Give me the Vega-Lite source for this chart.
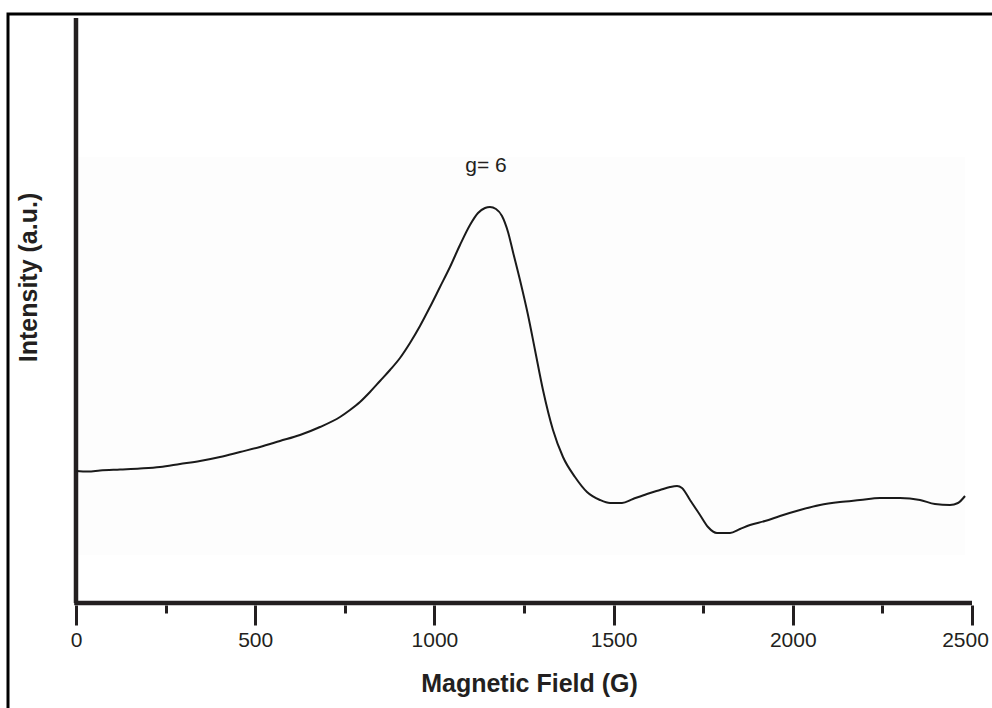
{
  "$schema": "https://vega.github.io/schema/vega-lite/v6.json",
  "width": 984,
  "height": 694,
  "autosize": {"type": "none"},
  "padding": {"left": 8, "top": 14, "right": 0, "bottom": 0},
  "background": "#ffffff",
  "config": {
    "view": {"stroke": "#000000", "strokeWidth": 3, "strokeDash": [984, 1678, 694]},
    "font": "Liberation Sans"
  },
  "datasets": {
    "curve": [
      {"field": 0, "intensity": 132},
      {"field": 33.5, "intensity": 131.5},
      {"field": 67, "intensity": 132.5},
      {"field": 122.8, "intensity": 133.5},
      {"field": 178.6, "intensity": 134.5},
      {"field": 234.4, "intensity": 136},
      {"field": 290.2, "intensity": 139},
      {"field": 346, "intensity": 142},
      {"field": 401.8, "intensity": 146},
      {"field": 457.6, "intensity": 151},
      {"field": 513.4, "intensity": 156},
      {"field": 569.2, "intensity": 162},
      {"field": 625, "intensity": 168},
      {"field": 680.8, "intensity": 176},
      {"field": 736.6, "intensity": 186},
      {"field": 764.5, "intensity": 193},
      {"field": 792.4, "intensity": 201},
      {"field": 820.3, "intensity": 211},
      {"field": 848.2, "intensity": 222},
      {"field": 876.1, "intensity": 233},
      {"field": 904, "intensity": 245},
      {"field": 931.9, "intensity": 260},
      {"field": 959.8, "intensity": 277},
      {"field": 987.7, "intensity": 296},
      {"field": 1015.6, "intensity": 316},
      {"field": 1043.5, "intensity": 336},
      {"field": 1071.4, "intensity": 358},
      {"field": 1099.3, "intensity": 378},
      {"field": 1121.7, "intensity": 390},
      {"field": 1141.2, "intensity": 395},
      {"field": 1155.1, "intensity": 396},
      {"field": 1171.9, "intensity": 394},
      {"field": 1188.6, "intensity": 387},
      {"field": 1205.4, "intensity": 371},
      {"field": 1219.3, "intensity": 351},
      {"field": 1238.8, "intensity": 323},
      {"field": 1261.2, "intensity": 288},
      {"field": 1280.7, "intensity": 253},
      {"field": 1303, "intensity": 213},
      {"field": 1330.9, "intensity": 173},
      {"field": 1358.8, "intensity": 146},
      {"field": 1392.3, "intensity": 126},
      {"field": 1425.8, "intensity": 111},
      {"field": 1462, "intensity": 103},
      {"field": 1490, "intensity": 100},
      {"field": 1523.4, "intensity": 100},
      {"field": 1554.1, "intensity": 104},
      {"field": 1593.1, "intensity": 109},
      {"field": 1629.5, "intensity": 113},
      {"field": 1657.4, "intensity": 116},
      {"field": 1677, "intensity": 117},
      {"field": 1690.8, "intensity": 115},
      {"field": 1713.2, "intensity": 103},
      {"field": 1741.1, "intensity": 88},
      {"field": 1763.4, "intensity": 76},
      {"field": 1788.5, "intensity": 70},
      {"field": 1824.8, "intensity": 70},
      {"field": 1852.7, "intensity": 74},
      {"field": 1880.6, "intensity": 78},
      {"field": 1922.5, "intensity": 82},
      {"field": 1964.3, "intensity": 87},
      {"field": 2020.1, "intensity": 93},
      {"field": 2075.9, "intensity": 98},
      {"field": 2131.7, "intensity": 101},
      {"field": 2187.5, "intensity": 103},
      {"field": 2243.3, "intensity": 105},
      {"field": 2299.1, "intensity": 105},
      {"field": 2354.9, "intensity": 103},
      {"field": 2396.7, "intensity": 99},
      {"field": 2438.6, "intensity": 98},
      {"field": 2460.9, "intensity": 100},
      {"field": 2480.5, "intensity": 107}
    ]
  },
  "resolve": {"axis": {"x": "independent", "y": "independent"}},
  "layer": [
    {
      "data": {"values": [{}]},
      "mark": {"type": "rect", "color": "#fdfdfd"},
      "encoding": {
        "x": {"datum": 0, "type": "quantitative", "scale": {"domain": [-189.7, 2555.8], "nice": false, "zero": false}, "axis": null},
        "x2": {"datum": 2480},
        "y": {"datum": 48, "type": "quantitative", "scale": {"domain": [-105, 589], "nice": false, "zero": false}, "axis": null},
        "y2": {"datum": 446}
      }
    },
    {
      "data": {"values": [{}]},
      "mark": {"type": "rule", "color": "#231f20", "strokeWidth": 4.5},
      "encoding": {
        "x": {"datum": 0, "type": "quantitative", "scale": {"domain": [-189.7, 2555.8], "nice": false, "zero": false}, "axis": null},
        "y": {"datum": 0, "type": "quantitative", "scale": {"domain": [-105, 589], "nice": false, "zero": false}, "axis": null},
        "y2": {"datum": 585}
      }
    },
    {
      "data": {"values": [{}]},
      "mark": {"type": "rule", "color": "#231f20", "strokeWidth": 4.5},
      "encoding": {
        "x": {"datum": -5, "type": "quantitative", "scale": {"domain": [-189.7, 2555.8], "nice": false, "zero": false},
          "axis": {"orient": "bottom", "offset": -103, "values": [250, 750, 1250, 1750, 2250], "domain": false, "grid": false, "labels": false, "ticks": true, "tickSize": 8, "tickWidth": 3, "tickColor": "#231f20", "title": null}},
        "x2": {"datum": 2500},
        "y": {"datum": 0, "type": "quantitative", "scale": {"domain": [-105, 589], "nice": false, "zero": false}, "axis": null}
      }
    },
    {
      "data": {"name": "curve"},
      "mark": {"type": "line", "color": "#1a1a1a", "strokeWidth": 2, "interpolate": "monotone"},
      "encoding": {
        "x": {"field": "field", "type": "quantitative", "scale": {"domain": [-189.7, 2555.8], "nice": false, "zero": false},
          "axis": {"orient": "bottom", "offset": -103, "values": [0, 500, 1000, 1500, 2000, 2500], "format": "d", "domain": false, "grid": false, "tickSize": 20, "tickWidth": 3, "tickColor": "#231f20",
            "labelFont": "Liberation Sans", "labelFontSize": 21, "labelColor": "#231f20", "labelPadding": 4, "labelFlush": false, "labelOverlap": false,
            "labelOffset": {"condition": {"test": "datum.value == 2500", "value": -7}, "value": 0},
            "title": "Magnetic Field (G)", "titleFont": "Liberation Sans", "titleFontSize": 25, "titleFontWeight": "bold", "titleColor": "#231f20",
            "titleX": 521, "titleY": 86, "titleBaseline": "alphabetic", "titleAlign": "center"}},
        "y": {"field": "intensity", "type": "quantitative", "scale": {"domain": [-105, 589], "nice": false, "zero": false},
          "axis": {"orient": "left", "offset": -68, "domain": false, "grid": false, "ticks": false, "labels": false,
            "title": "Intensity (a.u.)", "titleFont": "Liberation Sans", "titleFontSize": 25, "titleFontWeight": "bold", "titleColor": "#231f20",
            "titleAngle": -90, "titleX": -40, "titleY": 263, "titleBaseline": "alphabetic", "titleAlign": "center"}}
      }
    },
    {
      "data": {"values": [{}]},
      "mark": {"type": "text", "text": "g= 6", "font": "Liberation Sans", "fontSize": 21, "color": "#231f20", "baseline": "alphabetic", "align": "center"},
      "encoding": {
        "x": {"datum": 1144, "type": "quantitative", "scale": {"domain": [-189.7, 2555.8], "nice": false, "zero": false}, "axis": null},
        "y": {"datum": 431, "type": "quantitative", "scale": {"domain": [-105, 589], "nice": false, "zero": false}, "axis": null}
      }
    }
  ]
}
